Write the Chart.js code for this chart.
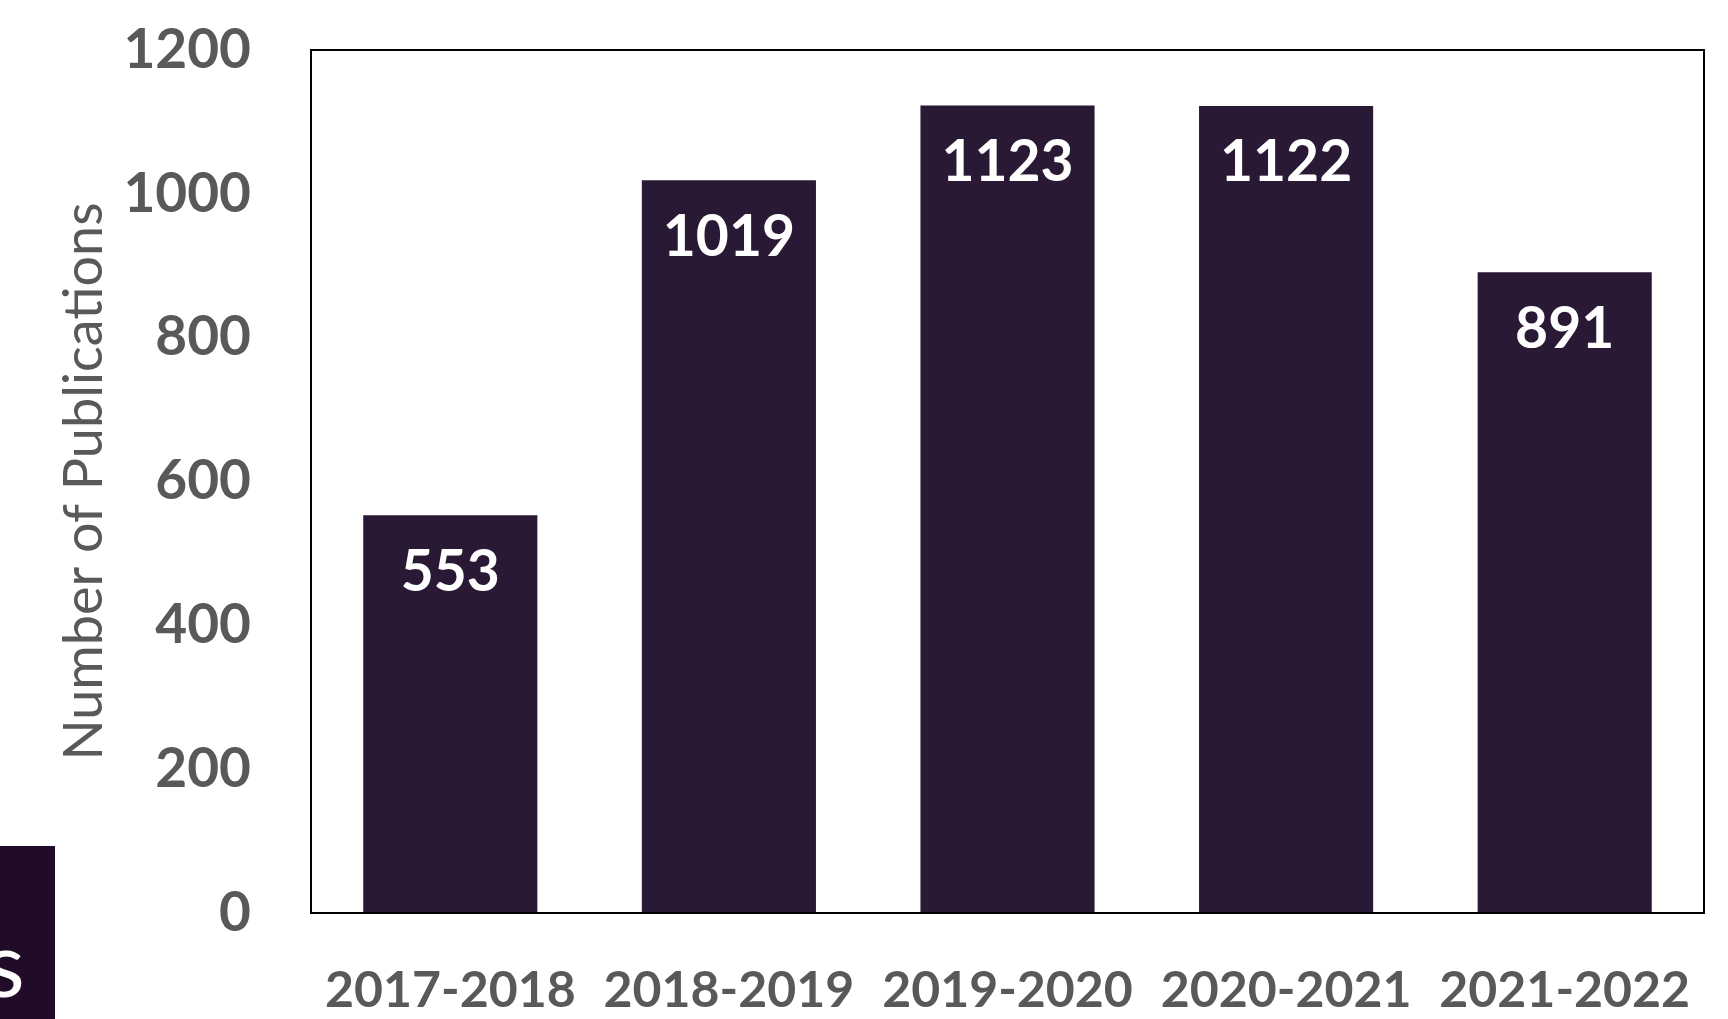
<!DOCTYPE html>
<html>
<head>
<meta charset="utf-8">
<script src="https://cdn.jsdelivr.net/npm/chart.js@4.4.1/dist/chart.umd.min.js"></script>
<style>
  html, body { margin: 0; padding: 0; background: #ffffff; overflow: hidden; }
  #wrap { position: relative; width: 1728px; height: 1019px; }
  #chart { position: absolute; left: 0; top: 0; }
  #corner { position: absolute; left: 0; top: 846px; width: 55px; height: 173px; background: #200b28; overflow: hidden; }
  #corner span { position: absolute; left: -15px; top: 70px; font-family: Lato, sans-serif; font-size: 92px; color: #ffffff; line-height: 1; }
</style>
</head>
<body>
<div id="wrap">
  <canvas id="chart" width="1728" height="1019"></canvas>
  <div id="corner"><span>s</span></div>
</div>
<script>
const categories = ['2017-2018', '2018-2019', '2019-2020', '2020-2021', '2021-2022'];
const publications = [553, 1019, 1123, 1122, 891];
const yTickValues = [0, 200, 400, 600, 800, 1000, 1200];
const yTitle = 'Number of Publications';

const GRAY = '#595959';
const BAR = '#2a1934';

const framePlugin = {
  id: 'frame',
  afterDatasetsDraw(chart) {
    const { ctx, chartArea: a } = chart;
    ctx.save();
    ctx.strokeStyle = '#000000';
    ctx.lineWidth = 2;
    ctx.strokeRect(a.left, a.top, a.right - a.left, a.bottom - a.top);
    ctx.restore();
  }
};

const valueLabels = {
  id: 'valueLabels',
  afterDatasetsDraw(chart) {
    const { ctx } = chart;
    const meta = chart.getDatasetMeta(0);
    ctx.save();
    ctx.fillStyle = '#ffffff';
    ctx.font = 'bold 57px Lato';
    ctx.textAlign = 'center';
    ctx.textBaseline = 'middle';
    meta.data.forEach((bar, i) => {
      ctx.fillText(String(chart.data.datasets[0].data[i]), bar.x, bar.y + 57);
    });
    ctx.restore();
  }
};

new Chart(document.getElementById('chart'), {
  type: 'bar',
  data: {
    labels: categories,
    datasets: [{
      data: publications,
      backgroundColor: BAR,
      borderWidth: 0,
      categoryPercentage: 1.0,
      barPercentage: 0.625
    }]
  },
  options: {
    responsive: false,
    animation: false,
    layout: { padding: { left: 0, top: 50, right: 24, bottom: 0 } },
    plugins: { legend: { display: false }, tooltip: { enabled: false } },
    scales: {
      x: {
        grid: { display: false, drawTicks: false },
        border: { display: false },
        ticks: { color: GRAY, font: { family: 'Lato', weight: 'bold', size: 50 }, padding: 48, maxRotation: 0, autoSkip: false },
        afterFit(scale) { scale.height = 106; scale.paddingLeft = 0; scale.paddingRight = 0; }
      },
      y: {
        min: 0, max: 1200,
        grid: { display: false, drawTicks: false },
        border: { display: false },
        afterBuildTicks(scale) { scale.ticks = yTickValues.map(v => ({ value: v })); },
        ticks: { color: GRAY, font: { family: 'Lato', weight: 'bold', size: 55 }, padding: 60, callback: (v) => String(v) },
        title: { display: true, text: yTitle, color: GRAY, font: { family: 'Lato', size: 54 }, padding: { top: 52, bottom: 0 } },
        afterFit(scale) { scale.width = 311; scale.paddingTop = 0; scale.paddingBottom = 0; }
      }
    }
  },
  plugins: [framePlugin, valueLabels]
});
</script>
</body>
</html>
